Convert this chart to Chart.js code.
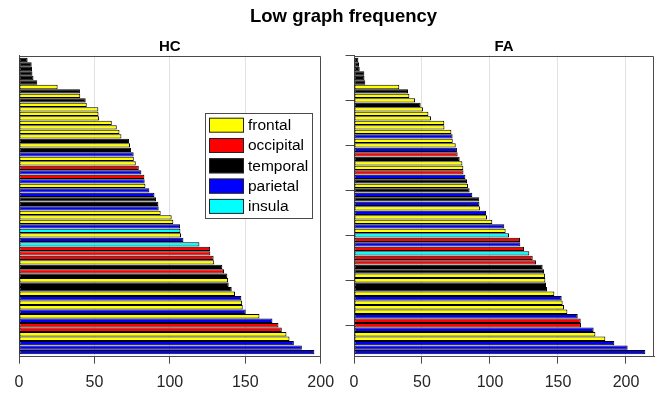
<!DOCTYPE html>
<html>
<head>
<meta charset="utf-8">
<script src="https://cdn.jsdelivr.net/npm/chart.js@4.4.1/dist/chart.umd.min.js"></script>
<style>
  body { margin: 0; background: #fff; }
  #wrap { position: relative; width: 663px; height: 394px; overflow: hidden; }
  #title { position: absolute; left: 250px; top: 7px; font: bold 18.5px "Liberation Sans", Arial, Helvetica, sans-serif; line-height: 18.5px; white-space: nowrap; color: #000; }
  #hc { position: absolute; left: 0; top: 0; }
  #fa { position: absolute; left: 335px; top: 0; }
</style>
</head>
<body>
<div id="wrap">
  <canvas id="hc" width="345" height="394"></canvas>
  <canvas id="fa" width="328" height="394"></canvas>
  <div id="title">Low graph frequency</div>
</div>
<script>
const lobeNames = ['frontal', 'occipital', 'temporal', 'parietal', 'insula'];
const lobeCodes = ['F', 'O', 'T', 'P', 'I'];
const lobeColors = ['#ffff00', '#ff0000', '#000000', '#0000ff', '#00ffff'];

// one entry per region, top bar first
const hcLobes = [
  'T', 'T', 'T', 'T', 'T', 'T', 'F', 'T', 'F', 'T', 'F', 'F', 'F', 'F', 'F', 'F', 'F', 'F', 'T', 'F', 'T', 'P',
  'F', 'F', 'O', 'P', 'O', 'P', 'F', 'P', 'P', 'T', 'T', 'P', 'F', 'F', 'F', 'P', 'I', 'F', 'P', 'I', 'O', 'O',
  'O', 'F', 'T', 'O', 'T', 'F', 'T', 'T', 'F', 'P', 'F', 'F', 'P', 'F', 'P', 'O', 'O', 'F', 'F', 'P', 'P', 'P'
];
const hcValues = [
  5.7, 8.4, 8.6, 8.9, 9.6, 12.1, 25.6, 40.4, 40.6, 44.2, 44.9, 52.6, 52.7, 53.1, 61.5, 64.8, 66.6, 67.9, 72.9, 73.6, 74.3, 76.0,
  76.1, 77.4, 79.4, 81.1, 83.1, 83.3, 83.8, 86.4, 89.8, 90.8, 92.4, 92.6, 93.9, 101.2, 102.3, 106.8, 107.0, 107.4, 109.0, 119.6, 126.7, 126.8,
  129.0, 129.4, 134.8, 135.9, 138.1, 138.6, 139.0, 141.0, 143.2, 147.4, 147.9, 148.3, 150.3, 159.4, 168.0, 172.0, 174.2, 177.3, 179.3, 182.2, 187.5, 195.8
];
const faLobes = [
  'T', 'T', 'T', 'T', 'T', 'T', 'F', 'T', 'F', 'F', 'T', 'F', 'F', 'F', 'F', 'F', 'F', 'P', 'F', 'F', 'P', 'O',
  'T', 'F', 'F', 'O', 'P', 'T', 'F', 'T', 'P', 'T', 'P', 'F', 'P', 'F', 'F', 'P', 'F', 'I', 'O', 'P', 'O', 'I',
  'O', 'O', 'T', 'T', 'F', 'F', 'T', 'T', 'F', 'P', 'F', 'F', 'F', 'P', 'O', 'O', 'P', 'F', 'F', 'P', 'P', 'P'
];
const faValues = [
  3.2, 3.7, 4.2, 7.6, 7.7, 8.3, 33.3, 39.7, 40.7, 44.9, 49.0, 50.7, 54.7, 56.6, 66.4, 66.5, 71.6, 72.5, 72.6, 74.8, 75.7, 76.2,
  77.7, 79.7, 80.4, 80.5, 81.9, 83.1, 83.8, 85.0, 87.0, 92.1, 92.2, 92.6, 97.1, 97.8, 101.7, 110.5, 111.5, 114.0, 122.1, 122.3, 125.0, 128.9,
  131.4, 133.8, 138.7, 139.7, 140.4, 140.7, 141.2, 141.9, 147.3, 152.7, 153.4, 154.4, 156.9, 164.5, 166.7, 166.9, 176.2, 177.5, 184.8, 191.4, 201.2, 214.2
];

const hcMax = 200;
const faMax = 220.6;
const yMax = 67;
const xStep = 50;
const yStep = 10;

const axisColor = '#4a4a4a';
const fontFamily = '"Liberation Sans", Arial, Helvetica, sans-serif';

// top and right edges of the axes box
const framePlugin = {
  id: 'frame',
  afterDatasetsDraw(chart) {
    const { ctx, chartArea } = chart;
    const top = Math.round(chartArea.top) + 0.5;
    const right = Math.round(chartArea.right) - 0.5;
    ctx.save();
    ctx.strokeStyle = axisColor;
    ctx.lineWidth = 1;
    ctx.beginPath();
    ctx.moveTo(chartArea.left, top);
    ctx.lineTo(right, top);
    ctx.lineTo(right, chartArea.bottom);
    ctx.stroke();
    ctx.restore();
  }
};

// legend box drawn inside the axes, like matlab's
const boxLegendPlugin = {
  id: 'boxLegend',
  afterDraw(chart, args, opts) {
    if (!opts.show) { return; }
    const ctx = chart.ctx;
    ctx.save();
    ctx.fillStyle = '#fff';
    ctx.fillRect(opts.left, opts.top, opts.width, opts.height);
    ctx.strokeStyle = axisColor;
    ctx.lineWidth = 1;
    ctx.strokeRect(opts.left + 0.5, opts.top + 0.5, opts.width, opts.height);
    ctx.font = opts.fontSize + 'px ' + fontFamily;
    ctx.textBaseline = 'middle';
    lobeNames.forEach((name, i) => {
      const y = opts.top + opts.firstOffset + i * opts.step;
      ctx.fillStyle = lobeColors[i];
      ctx.fillRect(opts.left + 4, y, opts.boxWidth, opts.boxHeight);
      ctx.strokeStyle = '#222';
      ctx.strokeRect(opts.left + 4.5, y + 0.5, opts.boxWidth - 1, opts.boxHeight - 1);
      ctx.fillStyle = '#000';
      ctx.fillText(name, opts.left + opts.boxWidth + 8, y + opts.boxHeight / 2 + 0.5);
    });
    ctx.restore();
  }
};

// ticks only at whole steps, like matlab (no extra tick at the axis limit)
function stepTicks(step) {
  return (scale) => {
    const list = [];
    for (let v = 0; v <= scale.max + 1e-9; v += step) {
      list.push({ value: v });
    }
    scale.ticks = list;
  };
}

function makePanel(canvasId, label, values, lobes, xMax, showYTicks, padRight, legendOpts) {
  const points = values.map((v, i) => ({ x: v, y: i + 1 }));
  const colors = lobes.map((c) => lobeColors[lobeCodes.indexOf(c)]);
  return new Chart(document.getElementById(canvasId), {
    type: 'bar',
    data: {
      datasets: [{
        data: points,
        backgroundColor: colors,
        borderColor: '#000',
        borderWidth: 1,
        borderSkipped: false,
        barPercentage: 0.96,
        categoryPercentage: 1
      }]
    },
    options: {
      indexAxis: 'y',
      responsive: false,
      animation: false,
      devicePixelRatio: 1,
      layout: { padding: { left: 0, right: padRight, top: 0, bottom: 0 }, autoPadding: false },
      plugins: {
        legend: { display: false },
        tooltip: { enabled: false },
        title: {
          display: true,
          text: label,
          fullSize: false,
          color: '#000',
          font: { family: fontFamily, size: 15, weight: 'bold' },
          padding: { top: 37.5, bottom: 0 }
        },
        boxLegend: legendOpts
      },
      scales: {
        x: {
          type: 'linear',
          min: 0,
          max: xMax,
          afterBuildTicks: stepTicks(xStep),
          afterFit: (s) => { s.height = 37.3; },
          grid: { color: '#e2e2e2', tickColor: axisColor, tickLength: 7 },
          border: { color: axisColor },
          ticks: { padding: 9, color: '#262626', font: { family: fontFamily, size: 16 } }
        },
        y: {
          type: 'linear',
          reverse: true,
          offset: false,
          min: 0,
          max: yMax,
          afterBuildTicks: stepTicks(yStep),
          afterFit: (s) => { s.width = 19; },
          grid: { offset: false, drawOnChartArea: false, drawTicks: showYTicks, tickLength: 8.5, tickColor: axisColor },
          border: { color: axisColor },
          ticks: { display: false }
        }
      }
    },
    plugins: [framePlugin, boxLegendPlugin]
  });
}

makePanel('hc', 'HC', hcValues, hcLobes, hcMax, false, 24.3, {
  show: true, left: 205, top: 113, width: 107, height: 105,
  firstOffset: 4.7, step: 20.3, boxWidth: 35, boxHeight: 15, fontSize: 15.5
});
makePanel('fa', 'FA', faValues, faLobes, faMax, true, 9, { show: false });
</script>
</body>
</html>
